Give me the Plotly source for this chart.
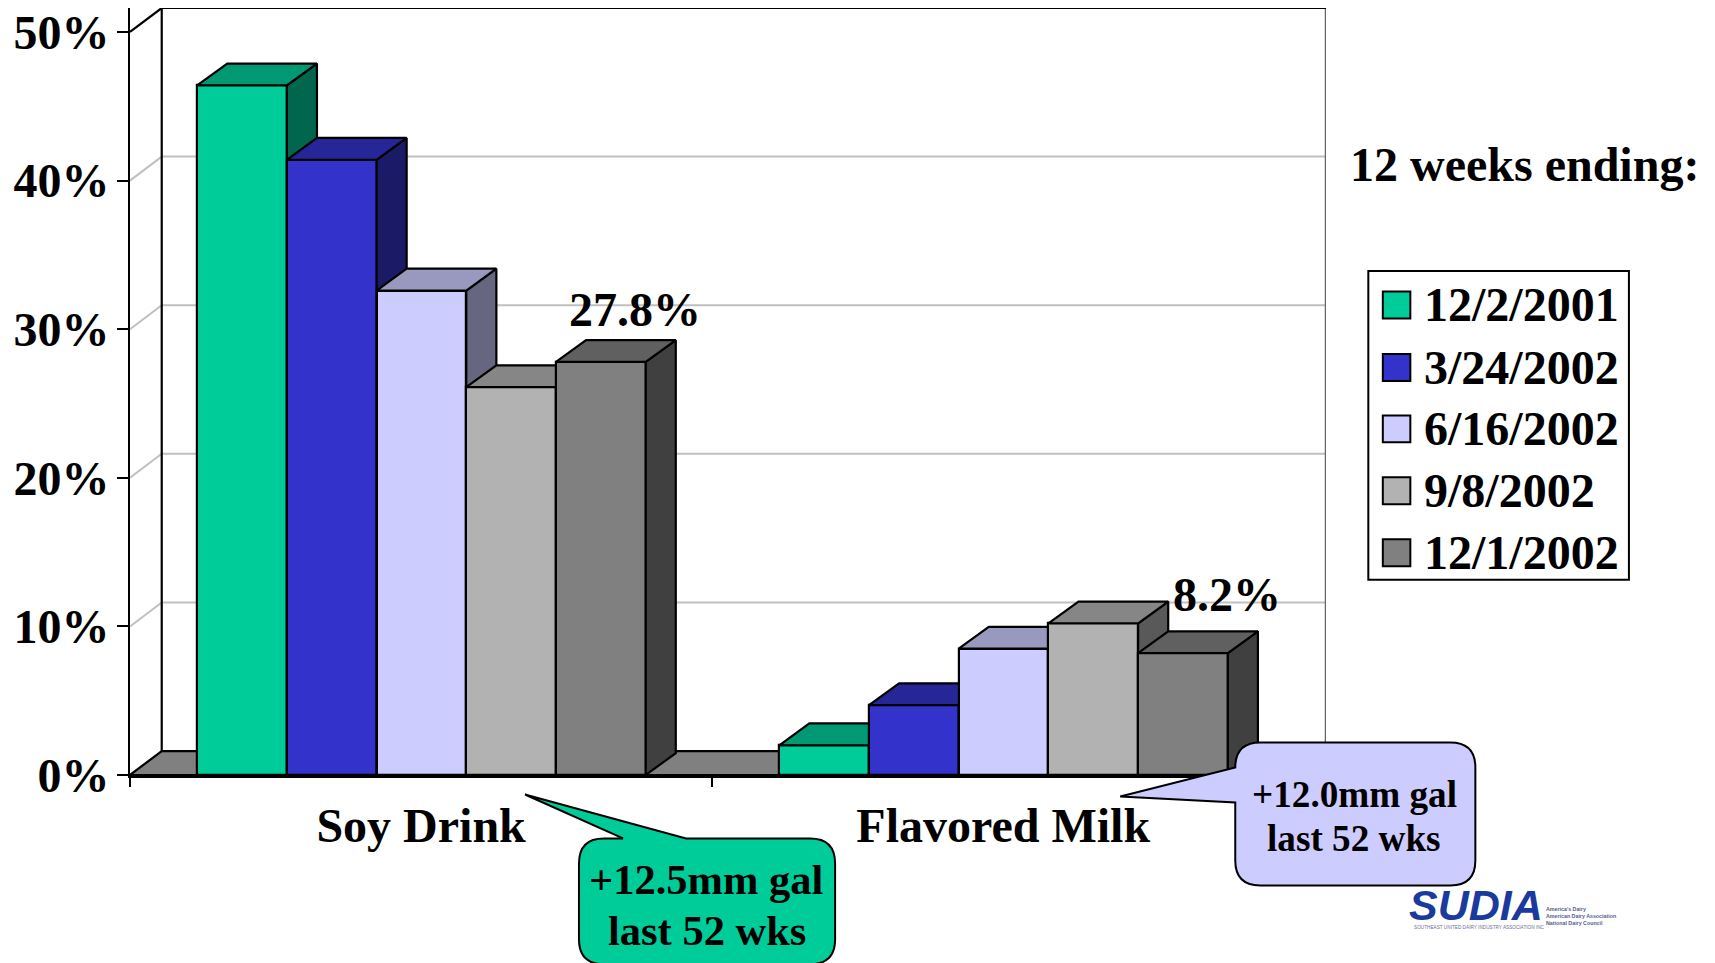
import plotly.graph_objects as go

# ---- data -------------------------------------------------------------
categories = ["Soy Drink", "Flavored Milk"]
series_names = ["12/2/2001", "3/24/2002", "6/16/2002", "9/8/2002", "12/1/2002"]
values_dec2001 = [46.4, 2.0]
values_mar2002 = [41.4, 4.7]
values_jun2002 = [32.6, 8.5]
values_sep2002 = [26.1, 10.2]
values_dec2002 = [27.8, 8.2]
y_ticks = [0, 10, 20, 30, 40, 50]
y_tick_labels = ["0%", "10%", "20%", "30%", "40%", "50%"]

front_colors = ["#00CC99", "#3333CC", "#CCCCFF", "#B2B2B2", "#808080"]
top_colors = ["#009973", "#262699", "#9999BF", "#868686", "#606060"]
side_colors = ["#00664D", "#1A1A66", "#666680", "#595959", "#404040"]

all_values = [values_dec2001, values_mar2002, values_jun2002, values_sep2002, values_dec2002]

# ---- page geometry ----------------------------------------------------
W, H = 1715, 963
PLOT_L, PLOT_R, PLOT_T, PLOT_B = 130.2, 1325.7, 7.7, 775.5
DEPTH_X = 0.0545   # receding depth of the 3-D box, category units
DEPTH_Y = 1.613    # receding depth of the 3-D box, percent units
BAR_DX = 0.0517    # receding depth of the bars
BAR_DY = 1.47
X_MAX = 2 + DEPTH_X
Y_MAX = 51.613
BAR_W = 0.1541
GROUP_SHIFT = 0.0006
FONT = "Liberation Serif"
LINE = 2.2


def px(x):
    return (x - PLOT_L) / (PLOT_R - PLOT_L)


def py(y):
    return (PLOT_B - y) / (PLOT_B - PLOT_T)


def text(x, y, s, size=48, **kw):
    return dict(x=px(x), y=py(y), xref="paper", yref="paper", text=s, showarrow=False,
                font=dict(family=FONT, size=size, color="black", weight="bold"),
                xanchor=kw.pop("xanchor", "center"), yanchor="middle", **kw)


def rounded_callout(left, top, right, bottom, r, tip, base, edge):
    """Rounded rectangle with a pointer leaving its top or left edge."""
    X, Y = px, py
    p = [f"M{X(left + r)},{Y(top)}"]
    if edge == "top":
        p += [f"L{X(base[0])},{Y(top)}", f"L{X(tip[0])},{Y(tip[1])}", f"L{X(base[1])},{Y(top)}"]
    p += [f"L{X(right - r)},{Y(top)}", f"Q{X(right)},{Y(top)} {X(right)},{Y(top + r)}",
          f"L{X(right)},{Y(bottom - r)}", f"Q{X(right)},{Y(bottom)} {X(right - r)},{Y(bottom)}",
          f"L{X(left + r)},{Y(bottom)}", f"Q{X(left)},{Y(bottom)} {X(left)},{Y(bottom - r)}"]
    if edge == "left":
        p += [f"L{X(left)},{Y(base[1])}", f"L{X(tip[0])},{Y(tip[1])}", f"L{X(left)},{Y(base[0])}"]
    p += [f"L{X(left)},{Y(top + r)}", f"Q{X(left)},{Y(top)} {X(left + r)},{Y(top)}", "Z"]
    return "".join(p)


fig = go.Figure()

# ---- box: floor, back wall, gridlines ---------------------------------
fig.add_trace(go.Scatter(x=[0, DEPTH_X, X_MAX, 2, 0], y=[0, DEPTH_Y, DEPTH_Y, 0, 0],
                         mode="lines", fill="toself", fillcolor="#808080",
                         line=dict(color="black", width=LINE), hoverinfo="skip", showlegend=False))
grid_x, grid_y = [], []
for v in y_ticks[1:-1]:
    grid_x += [0, DEPTH_X, X_MAX, None]
    grid_y += [v, v + DEPTH_Y, v + DEPTH_Y, None]
fig.add_trace(go.Scatter(x=grid_x, y=grid_y, mode="lines", line=dict(color="#C0C0C0", width=2),
                         hoverinfo="skip", showlegend=False))
fig.add_trace(go.Scatter(x=[X_MAX, X_MAX], y=[DEPTH_Y, Y_MAX], mode="lines",
                         line=dict(color="#666666", width=2.5), hoverinfo="skip", showlegend=False))
fig.add_trace(go.Scatter(x=[0, DEPTH_X, X_MAX], y=[50, Y_MAX, Y_MAX], mode="lines",
                         line=dict(color="black", width=LINE), hoverinfo="skip", showlegend=False))
fig.add_trace(go.Scatter(x=[DEPTH_X, DEPTH_X], y=[DEPTH_Y, Y_MAX], mode="lines",
                         line=dict(color="black", width=LINE), hoverinfo="skip", showlegend=False))

# ---- bars: each series sits on its own overlaid axes so that a later
# series paints over the side faces of the one before it ----------------
for i, (name, vals) in enumerate(zip(series_names, all_values)):
    ax = str(i + 2)
    offset = -2.5 * BAR_W + i * BAR_W + GROUP_SHIFT
    top_x, top_y, side_x, side_y = [], [], [], []
    for c, v in enumerate(vals):
        x0 = c + 0.5 + offset
        x1 = x0 + BAR_W
        top_x += [x0, x0 + BAR_DX, x1 + BAR_DX, x1, x0, None]
        top_y += [v, v + BAR_DY, v + BAR_DY, v, v, None]
        side_x += [x1, x1 + BAR_DX, x1 + BAR_DX, x1, x1, None]
        side_y += [0, BAR_DY, v + BAR_DY, v, 0, None]
    fig.add_trace(go.Bar(x=[0.5, 1.5], y=vals, name=name, width=BAR_W, offset=offset,
                         marker=dict(color=front_colors[i], line=dict(color="black", width=LINE)),
                         xaxis="x" + ax, yaxis="y" + ax, showlegend=False))
    fig.add_trace(go.Scatter(x=side_x, y=side_y, mode="lines", fill="toself", fillcolor=side_colors[i],
                             line=dict(color="black", width=LINE), hoverinfo="skip", showlegend=False,
                             xaxis="x" + ax, yaxis="y" + ax))
    fig.add_trace(go.Scatter(x=top_x, y=top_y, mode="lines", fill="toself", fillcolor=top_colors[i],
                             line=dict(color="black", width=LINE), hoverinfo="skip", showlegend=False,
                             xaxis="x" + ax, yaxis="y" + ax))

# ---- axes -------------------------------------------------------------
layout_axes = {}
for i in range(5):
    ax = str(i + 2)
    last_axis = i == 4
    layout_axes["xaxis" + ax] = dict(range=[0, X_MAX], overlaying="x", visible=last_axis, showline=last_axis,
                                     linecolor="black", linewidth=3, showgrid=False, zeroline=False,
                                     ticks="", showticklabels=False, automargin=False)
    layout_axes["yaxis" + ax] = dict(range=[0, Y_MAX], overlaying="y", visible=False, automargin=False)

fig.update_layout(
    width=W, height=H, autosize=False, paper_bgcolor="white", plot_bgcolor="white",
    margin=dict(l=PLOT_L, r=W - PLOT_R, t=PLOT_T, b=H - PLOT_B, pad=0),
    showlegend=False, bargap=0,
    xaxis=dict(range=[0, X_MAX], tickmode="array", tickvals=[0.5, 1.5], ticktext=categories, ticks="",
               ticklabelstandoff=7, showgrid=False, zeroline=False, showline=True, linecolor="black", linewidth=2,
               automargin=False,
               tickfont=dict(family=FONT, size=48, color="black", weight="bold"),
               minor=dict(tickmode="array", tickvals=[0, 1, 2], ticks="outside", ticklen=10, tickwidth=2,
                          tickcolor="black", showgrid=False)),
    yaxis=dict(range=[0, Y_MAX], tickmode="array", tickvals=y_ticks, ticktext=y_tick_labels, ticks="outside",
               ticklen=11, tickwidth=2, tickcolor="black", ticklabelstandoff=-2, showgrid=False,
               zeroline=False, showline=True, linecolor="black", linewidth=2, automargin=False,
               tickfont=dict(family=FONT, size=48, color="black", weight="bold")),
    **layout_axes,
)

# ---- callouts, legend, logo -------------------------------------------
shapes = [
    dict(type="path", xref="paper", yref="paper", layer="above", fillcolor="#00CC99",
         line=dict(color="black", width=2),
         path=rounded_callout(579, 839, 835, 965, 25, (525, 795), (623, 686), "top")),
    dict(type="path", xref="paper", yref="paper", layer="above", fillcolor="#CCCCFF",
         line=dict(color="black", width=2),
         path=rounded_callout(1235, 743, 1475, 886, 25, (1120, 797), (768, 803), "left")),
    dict(type="rect", xref="paper", yref="paper", layer="above", x0=px(1368), x1=px(1628.5), y0=py(271), y1=py(580),
         fillcolor="white", line=dict(color="black", width=2)),
]
annotations = [
    text(1524.5, 164, "12 weeks ending:"),
    text(706.5, 880, "+12.5mm gal", size=42.5),
    text(706.5, 931, "last 52 wks", size=42.5),
    text(1354, 795, "+12.0mm gal", size=37.2),
    text(1354, 839, "last 52 wks", size=37.2),
]

# value labels sit above the last bar of each group
last_series = all_values[-1]
label_shift_x = [35, 44]
label_shift_y = [28, 35]
for c, v in enumerate(last_series):
    annotations.append(dict(
        x=c + 0.5 + 2 * BAR_W, y=v + DEPTH_Y, xref="x", yref="y",
        text=f"{v:.1f}%", showarrow=False, xanchor="center", yanchor="middle",
        xshift=label_shift_x[c], yshift=label_shift_y[c],
        font=dict(family=FONT, size=48, color="black", weight="bold")))

legend_y = [305, 367.5, 429, 491, 553]
for name, color, y in zip(series_names, front_colors, legend_y):
    shapes.append(dict(type="rect", xref="paper", yref="paper", layer="above",
                       x0=px(1382.5), x1=px(1410), y0=py(y - 13.5), y1=py(y + 13.5),
                       fillcolor=color, line=dict(color="black", width=2)))
    annotations.append(text(1421.5, y, name, xanchor="left"))

annotations += [
    dict(x=px(1476), y=py(906), xref="paper", yref="paper", text="<b><i>SUDIA</i></b>", showarrow=False,
         xanchor="center", yanchor="middle",
         font=dict(family="Liberation Sans", size=43, color="#1A3A9E")),
    dict(x=px(1544), y=py(905), xref="paper", yref="paper", xanchor="left", yanchor="top", align="left",
         showarrow=False, text="<b>America's Dairy<br>American Dairy Association<br>National Dairy Council</b>",
         font=dict(family="Liberation Sans", size=5.3, color="#555E88")),
    dict(x=px(1412), y=py(928), xref="paper", yref="paper", xanchor="left", yanchor="middle",
         showarrow=False, text="SOUTHEAST UNITED DAIRY INDUSTRY ASSOCIATION INC",
         font=dict(family="Liberation Sans", size=4.7, color="#6A7096")),
]
fig.update_layout(shapes=shapes, annotations=annotations)

fig.write_html("out.html")
